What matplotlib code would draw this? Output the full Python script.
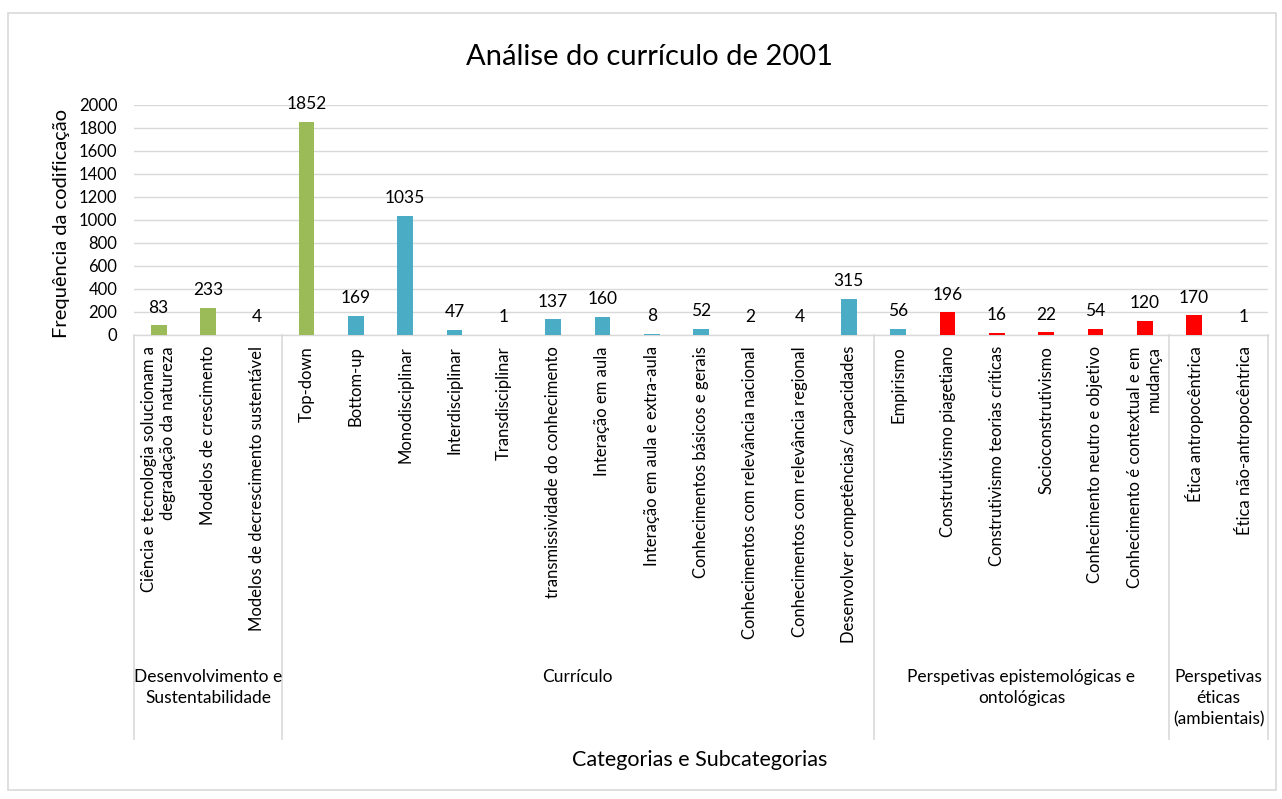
import matplotlib
matplotlib.use("Agg")
import matplotlib.pyplot as plt
from matplotlib.patches import Rectangle

plt.rcParams['font.family'] = ['Lato', 'DejaVu Sans']

categories = [
    "Ciência e tecnologia solucionam a\ndegradação da natureza",
    "Modelos de crescimento",
    "Modelos de decrescimento sustentável",
    "Top-down",
    "Bottom-up",
    "Monodisciplinar",
    "Interdisciplinar",
    "Transdisciplinar",
    "transmissividade do conhecimento",
    "Interação em aula",
    "Interação em aula e extra-aula",
    "Conhecimentos básicos e gerais",
    "Conhecimentos com relevância nacional",
    "Conhecimentos com relevância regional",
    "Desenvolver competências/ capacidades",
    "Empirismo",
    "Construtivismo piagetiano",
    "Construtivismo teorias críticas",
    "Socioconstrutivismo",
    "Conhecimento neutro e objetivo",
    "Conhecimento é contextual e em\nmudança",
    "Ética antropocêntrica",
    "Ética não-antropocêntrica",
]
values = [83, 233, 4, 1852, 169, 1035, 47, 1, 137, 160, 8, 52, 2, 4, 315,
          56, 196, 16, 22, 54, 120, 170, 1]
color_keys = ["g", "g", "g", "g", "b", "b", "b", "b", "b", "b", "b", "b", "b", "b", "b",
              "b", "r", "r", "r", "r", "r", "r", "b"]
groups = ["Desenvolvimento e\nSustentabilidade", "Currículo",
          "Perspetivas epistemológicas e\nontológicas", "Perspetivas\néticas\n(ambientais)"]
group_sizes = [3, 12, 6, 2]

palette = {"g": "#9BBB59", "b": "#4BACC6", "r": "#FF0000"}
colors = [palette[k] for k in color_keys]

W, H = 1282, 799
fig = plt.figure(figsize=(W / 100, H / 100), dpi=100)
fig.patches.append(Rectangle((8 / W, 1 - 790 / H), (1276 - 8) / W, (790 - 13) / H,
                             transform=fig.transFigure, fill=False,
                             edgecolor="#D9D9D9", linewidth=1.2))

left, right, top, bottom = 134, 1268, 105, 335
ax = fig.add_axes([left / W, 1 - bottom / H, (right - left) / W, (bottom - top) / H])

x = list(range(len(values)))
bars = ax.bar(x, values, width=0.32, color=colors, zorder=3)
for xi, v in zip(x, values):
    ax.annotate(str(v), (xi, v), xytext=(0, 7), textcoords="offset points",
                ha="center", va="bottom", fontsize=12.5, color="#000000")

ax.set_xlim(-0.5, len(values) - 0.5)
ax.set_ylim(0, 2000)
ax.set_yticks(range(0, 2001, 200))
ax.tick_params(axis="y", length=0, labelsize=12, pad=12)
ax.grid(axis="y", color="#D9D9D9", linewidth=1, zorder=0)
for s in ["top", "right", "left"]:
    ax.spines[s].set_visible(False)
ax.spines["bottom"].set_color("#D9D9D9")
ax.spines["bottom"].set_linewidth(1)

ax.set_xticks(x)
ax.set_xticklabels(categories, rotation=90, fontsize=12, va="top", ha="center",
                   multialignment="right")
ax.tick_params(axis="x", length=0, pad=8)

# group separators and labels
trans = ax.get_xaxis_transform()
ybot = (bottom - 739) / (bottom - top)
bounds = [-0.5]
for gs in group_sizes:
    bounds.append(bounds[-1] + gs)
for b in bounds:
    ax.plot([b, b], [0, ybot], transform=trans, color="#D9D9D9", linewidth=1.2,
            clip_on=False)
ylab = (bottom - 669) / (bottom - top)
for g, a, b in zip(groups, bounds[:-1], bounds[1:]):
    ax.text((a + b) / 2, ylab, g, transform=trans, ha="center", va="top",
            fontsize=12.5, linespacing=1.4)

fig.text(700 / W, 1 - 760 / H, "Categorias e Subcategorias",
         ha="center", va="center", fontsize=15.5)
fig.text(62 / W, 1 - 223 / H, "Frequência da codificação", rotation=90,
         ha="center", va="center", fontsize=14.5)
fig.text(650 / W, 1 - 57 / H, "Análise do currículo de 2001", ha="center",
         va="center", fontsize=21)

fig.savefig("out.png", dpi=100)
